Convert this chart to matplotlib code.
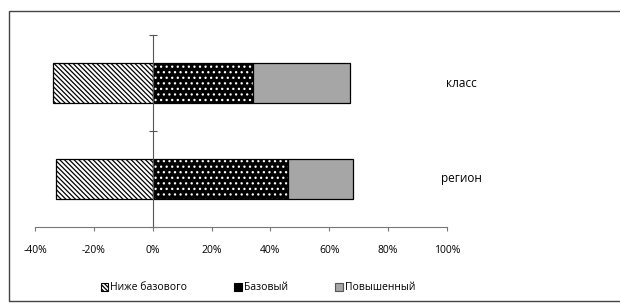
import matplotlib.pyplot as plt
from matplotlib.patches import Patch, Rectangle

plt.rcParams['font.family'] = ['Open Sans', 'DejaVu Sans']
plt.rcParams['hatch.linewidth'] = 0.9

# данные (доли, %)
groups = ['регион', 'класс']
below = [-33, -34]
basic = [46, 34]
high = [22, 33]
labels = ['Ниже базового', 'Базовый', 'Повышенный']
xticks = [-40, -20, 0, 20, 40, 60, 80, 100]

fig = plt.figure(figsize=(6.2, 3.05), dpi=100)
ax = fig.add_axes([0.0565, 0.256, 0.6645, 0.629])

y = range(len(groups))
h = 0.41
high_left = [b for b in basic]

# ниже базового - штриховка
ax.barh(y, below, height=h, color='white', edgecolor='black', hatch='\\' * 7, linewidth=0.9)
# базовый - черный с белыми точками
ax.barh(y, basic, height=h, color='black', edgecolor='white', hatch='...', linewidth=0)
ax.barh(y, basic, height=h, fill=False, edgecolor='black', linewidth=0.9)
# повышенный - серый
ax.barh(y, high, left=high_left, height=h, color='#a6a6a6', edgecolor='black', linewidth=0.9)

ax.set_xlim(-40, 100)
ax.set_ylim(-0.5, 1.5)
ax.set_xticks(xticks)
ax.set_xticklabels([f'{v}%' for v in xticks], fontsize=7.5)
ax.set_yticks([-0.5, 0.5, 1.5])
ax.set_yticklabels([])

for s in ['top', 'right']:
    ax.spines[s].set_visible(False)
ax.spines['left'].set_position(('data', 0))
ax.spines['left'].set_color('#555555')
ax.spines['bottom'].set_color('#777777')
ax.tick_params(axis='x', direction='out', length=3, pad=10, color='#777777')
ax.tick_params(axis='y', direction='inout', length=6, color='#555555')

for i, g in enumerate(groups):
    ax.text(105, i, g, ha='center', va='center', fontsize=8.5)

# легенда
handles = [
    Patch(facecolor='white', edgecolor='black', hatch='\\' * 8, linewidth=0.8),
    Patch(facecolor='black', edgecolor='black', linewidth=0.8),
    Patch(facecolor='#a6a6a6', edgecolor='#555555', linewidth=0.8),
]
fig.legend(handles, labels, loc='center', bbox_to_anchor=(0.416, 0.056), ncol=3,
           frameon=False, fontsize=7.5, handlelength=0.75, handleheight=0.75,
           handletextpad=0.2, columnspacing=4.5)

# рамка
fig.add_artist(Rectangle((0.0145, 0.013), 1.2, 0.951, transform=fig.transFigure,
                         fill=False, edgecolor='#444444', linewidth=1.0))

fig.savefig('out.png', dpi=100)
